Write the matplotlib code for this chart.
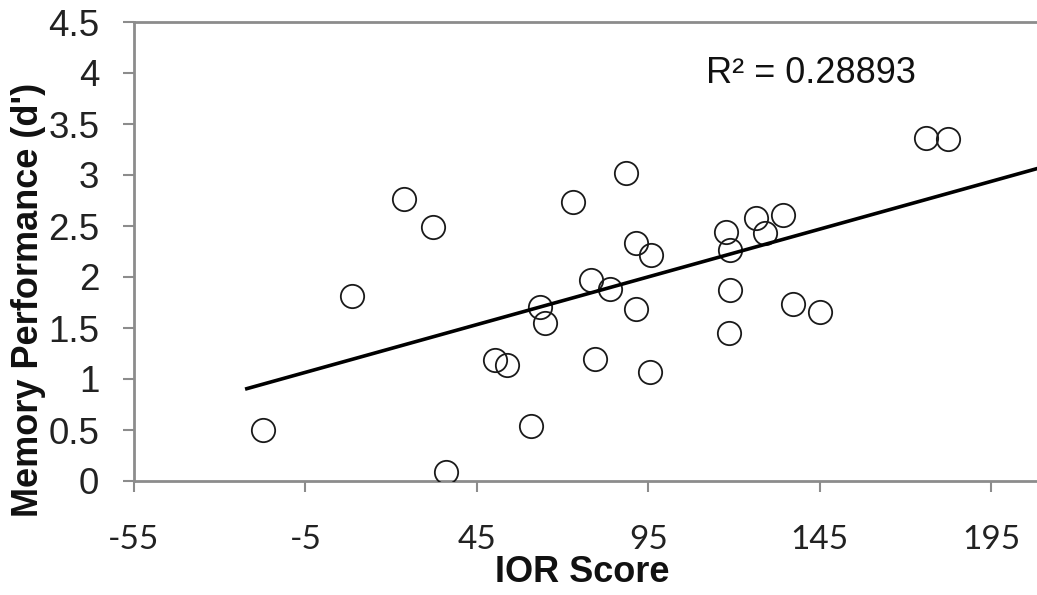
import matplotlib
matplotlib.use("Agg")
import matplotlib.pyplot as plt
import numpy as np

plt.rcParams['font.family'] = ['Liberation Sans', 'DejaVu Sans']

# Data
ior_score = [-17.4, 8.5, 23.7, 32.1, 36.0, 50.2, 53.7, 60.9, 63.4, 64.8,
             73.1, 78.4, 79.4, 83.8, 88.6, 91.5, 91.5, 95.4, 95.9, 117.6,
             118.8, 118.8, 118.6, 126.3, 129.0, 134.3, 137.2, 145.2, 176.1, 182.4]
memory_dprime = [0.50, 1.81, 2.76, 2.49, 0.09, 1.19, 1.14, 0.54, 1.71, 1.55,
                 2.74, 1.97, 1.20, 1.88, 3.02, 2.33, 1.69, 1.07, 2.22, 2.44,
                 2.26, 1.87, 1.45, 2.58, 2.43, 2.61, 1.74, 1.66, 3.36, 3.35]

trend_slope = 0.00936
trend_intercept = 1.112
trend_x_range = [-22.6, 210.0]
r_squared_text = "R² = 0.28893"

x_ticks = [-55, -5, 45, 95, 145, 195]
y_ticks = [0, 0.5, 1, 1.5, 2, 2.5, 3, 3.5, 4, 4.5]
y_tick_labels = ["0", "0.5", "1", "1.5", "2", "2.5", "3", "3.5", "4", "4.5"]

fig = plt.figure(figsize=(10.37, 5.95), dpi=100)
ax = fig.add_axes([134/1037, 1 - 481/595, 903/1037, 459/595])

ax.plot(ior_score, memory_dprime, linestyle='none', marker='o', markersize=16.8,
        markerfacecolor='none', markeredgecolor='#1a1a1a', markeredgewidth=1.3,
        zorder=3)

tx = np.array(trend_x_range)
ax.plot(tx, trend_intercept + trend_slope * tx, color='black', linewidth=2.6,
        solid_capstyle='butt', zorder=4)

ax.set_xlim(-55, 208.4)
ax.set_ylim(0, 4.5)
ax.set_xticks(x_ticks)
ax.set_xticklabels([str(v) for v in x_ticks], fontsize=24, color='#222222',
                   family=['Lato', 'DejaVu Sans'])
ax.set_yticks(y_ticks)
ax.set_yticklabels(y_tick_labels, fontsize=26.5, color='#222222')

for side in ['left', 'bottom', 'top']:
    ax.spines[side].set_color('#8c8c8c')
    ax.spines[side].set_linewidth(2.0)
ax.spines['right'].set_visible(False)
ax.tick_params(axis='both', direction='out', color='#8c8c8c', width=1.5, length=8)
ax.tick_params(axis='x', pad=24)
ax.tick_params(axis='y', pad=17)

ax.set_xlabel("IOR Score", fontsize=26, fontweight='bold', color='#111111')
ax.xaxis.set_label_coords(0.496, -0.200)
ax.xaxis.label.set_va('center')
ax.set_ylabel("Memory Performance (d')", fontsize=26, fontweight='bold', color='#111111')
ax.yaxis.set_label_coords(-0.117, 0.394)
ax.yaxis.label.set_va('center')

ax.text(111.9, 3.90, r_squared_text, fontsize=26, color='#111111', va='baseline', ha='left')

fig.savefig("out.png", dpi=100)
